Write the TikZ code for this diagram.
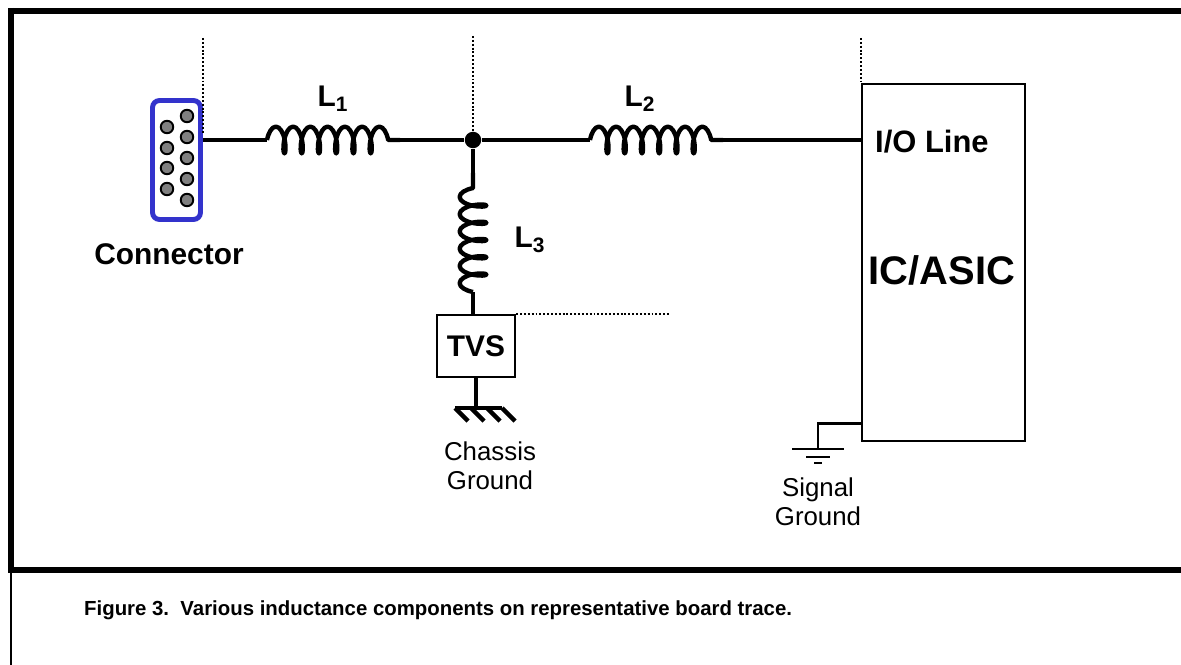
\documentclass[tikz,border=0pt]{standalone}
\usepackage{fontspec}
\setmainfont{Liberation Sans}
\usetikzlibrary{positioning,decorations.pathmorphing}
\definecolor{connblue}{RGB}{51,51,204}

\begin{document}
\begin{tikzpicture}[
			x=0.02cm,y=-0.02cm,
			wire/.style={line width=2.3pt},
			thinline/.style={line width=1.4pt},
			dots/.style={line width=1.1pt,dash pattern=on 1.1pt off 1.1pt},
			ind/.style={
				decorate,
				decoration={coil,aspect=0.34,amplitude=7.6pt,segment length=0.345cm},
				line width=2.5pt,
				line join=round
			},
			connbox/.style={
				draw=connblue,
				line width=2.8pt,
				rectangle,
				rounded corners=4pt,
				minimum width=0.96cm,
				minimum height=2.38cm
			},
			pin/.style={
				circle,
				draw=black,
				line width=1.1pt,
				fill=black!50,
				minimum size=0.25cm,
				inner sep=0pt
			},
			box/.style={
				draw=black,
				line width=1.4pt,
				rectangle,
				inner sep=0pt
			},
			lbl/.style={font=\fontsize{17}{20}\selectfont\bfseries},
			small/.style={font=\fontsize{14.7}{16.5}\selectfont,align=center}
			]
			\useasboundingbox (0,0) rectangle (1181,665);

			% frame round the figure
			\draw[line width=3.4pt] (8,11) -- (1181,11);
			\draw[line width=3.4pt] (11,8) -- (11,570);
			\draw[line width=3.4pt] (8,570) -- (1181,570);
			\draw[line width=1.2pt] (11,570) -- (11,665);

			% connector with its pins
			\node[connbox] (conn) at (176.5,160) {};
			\foreach \i/\x/\y in {1/187/116,2/187/137,3/187/158,4/187/179,5/187/200,
				6/167/127,7/167/148,8/167/168,9/167/189}
				\node[pin] (pin\i) at (\x,\y) {};
			\node[lbl] (connlbl) at (169,254) {Connector};

			% board trace
			\coordinate (l1a) at (267,140);
			\coordinate (l1b) at (400,140);
			\node[circle,fill=black,minimum size=0.33cm,inner sep=0pt] (jn) at (473,140) {};
			\coordinate (l2a) at (590,140);
			\coordinate (l2b) at (723,140);
			\coordinate (l3a) at (473,173);
			\coordinate (l3b) at (473,292);

			% IC
			\node[box,line width=1.6pt,minimum width=3.26cm,minimum height=7.14cm] (ic) at (943.5,262.5) {};
			\node[lbl,font=\fontsize{17.6}{20}\selectfont\bfseries,anchor=west] (io) at (869,142) {I/O Line};
			\node[font=\fontsize{22.7}{26}\selectfont\bfseries] (asic) at (942,270) {IC/ASIC};

			% TVS
			\node[box,lbl,minimum width=1.56cm,minimum height=1.24cm] (tvs) at (476,346) {TVS};

			% wires and inductors
			\draw[wire] (conn.east |- l1a) -- (l1a);
			\draw[ind] (l1a) -- (l1b);
			\draw[wire] (l1b) -- (jn) -- (l2a);
			\draw[ind] (l2a) -- (l2b);
			\draw[wire] (l2b) -- (ic.west |- l2b);
			\draw[wire] (jn) -- (l3a);
			\draw[ind] (l3b) -- (l3a);
			\draw[wire] (l3b) -- (tvs.north -| l3b);

			\node[lbl] (L1) at (333,99) {L\textsubscript{1}};
			\node[lbl] (L2) at (640,99) {L\textsubscript{2}};
			\node[lbl] (L3) at (530,240) {L\textsubscript{3}};

			% dotted reference lines
			\draw[dots] (conn.east |- 0,38) -- (conn.east |- 0,133);
			\draw[dots] (jn |- 0,36) -- (jn);
			\draw[dots] (ic.north west |- 0,38) -- (ic.north west);
			\draw[dots] (tvs.north east) -- (tvs.north east -| 670,0);

			% chassis ground
			\coordinate (cg) at (476,408);
			\draw[wire] (tvs.south) -- (cg);
			\draw[line width=2.6pt] (cg) ++(-21,0) -- ++(47,0);
			\draw[line width=2.6pt] (cg) ++(-21,0) -- ++(13,13);
			\draw[line width=2.6pt] (cg) ++(-5,0) -- ++(13,13);
			\draw[line width=2.6pt] (cg) ++(11,0) -- ++(13,13);
			\draw[line width=2.6pt] (cg) ++(26,0) -- ++(13,13);
			\node[small] (cglbl) at (490,466) {Chassis\\Ground};

			% signal ground
			\coordinate (sg) at (818,449);
			\draw[thinline] (ic.south west) ++(0,-19) -| (sg);
			\draw[thinline] (sg) ++(-26,0) -- ++(52,0);
			\draw[thinline] (sg) ++(-12,8) -- ++(24,0);
			\draw[thinline] (sg) ++(-4,14) -- ++(8,0);
			\node[small] (sglbl) at (818,502) {Signal\\Ground};

			% caption
			\node[font=\fontsize{11.6}{13}\selectfont\bfseries,anchor=west] (cap) at (78,610)
				{Figure 3.\ \ Various inductance components on representative board trace.};
		\end{tikzpicture}
\end{document}
